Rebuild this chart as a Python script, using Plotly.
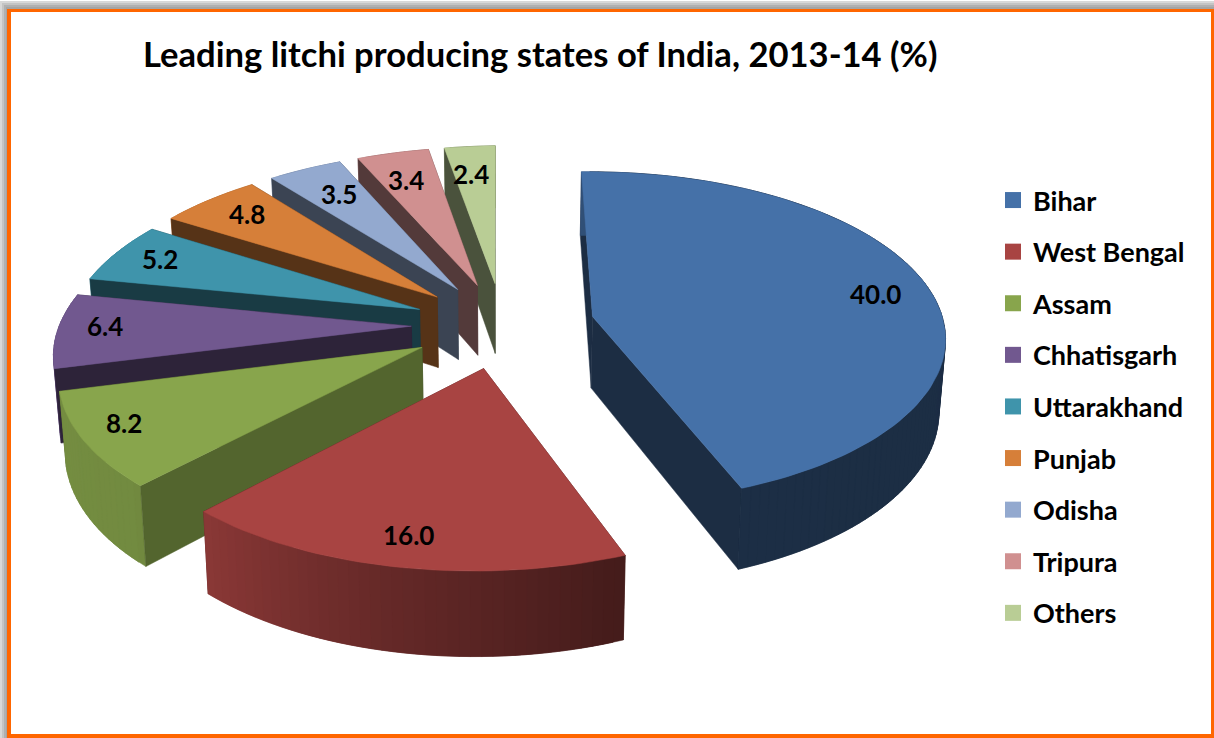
import numpy as np
import plotly.graph_objects as go

# ---- data ----
states = ["Bihar", "West Bengal", "Assam", "Chhatisgarh", "Uttarakhand", "Punjab", "Odisha", "Tripura", "Others"]
shares = [40.0, 16.0, 8.2, 6.4, 5.2, 4.8, 3.5, 3.4, 2.4]
top_colors = ["#4571A8", "#A84442", "#88A54C", "#71588F", "#3F94AB", "#D67F39", "#93A9CF", "#D09090", "#B9CD95"]
title_text = "Leading litchi producing states of India, 2013-14 (%)"

# ---- 3-D pie projection settings ----
CX, CY = 504.0, 325.0
RX, RY = 352.0, 165.0
PERSP = 0.126
SHEAR = 7.0
EXPLODE = 0.26
DEPTH = 72.0
TAPER = 0.985
START_DEG = -1.5
LABEL_R = 0.82
LABEL_DX = [9, -14, -29, -18, -7, 4, 14, 6, 4]
LABEL_DY = [3, 8, 0, -4, -3, -2, 5, 5, 5]
FONT = "Lato"


def project(u, v, shear=SHEAR):
    f = 1.0 / (1.0 + PERSP * v)
    return CX - 1.0 * (shear > 0) + RX * u * f + shear * v, CY - RY * v * f, f


def drop(x, y, f):
    return CX + (x - CX) * TAPER, y + DEPTH * f


def shade(hex_color, k):
    rgb = [int(hex_color[i:i + 2], 16) for i in (1, 3, 5)]
    return "rgb({},{},{})".format(*[int(round(c * k)) for c in rgb])


def wall_factor(deg):
    d = deg % 360
    return float(np.interp(d, [0, 90, 160, 195, 225, 300, 360], [0.45, 0.40, 0.41, 0.62, 0.84, 0.88, 0.70]))


fig = go.Figure()


def poly(xs, ys, color):
    fig.add_trace(go.Scatter(x=list(xs), y=list(ys), mode="lines", fill="toself", fillcolor=color,
                             line=dict(color=color, width=0.5), hoverinfo="skip", showlegend=False))


total = sum(shares)
spans = [s / total * 360.0 for s in shares]
starts = START_DEG + np.concatenate([[0], np.cumsum(spans)[:-1]])

slices = []
for i, (s0, sp) in enumerate(zip(starts, spans)):
    mid = np.radians(s0 + sp / 2)
    apex_u, apex_v = EXPLODE * np.sin(mid), EXPLODE * np.cos(mid)
    degs = np.linspace(s0, s0 + sp, max(10, int(sp / 1.5)))
    angs = np.radians(degs)
    u = apex_u + np.sin(angs)
    v = apex_v + np.cos(angs)
    slices.append((i, s0, sp, mid, apex_u, apex_v, u, v, degs))

# painter's order: back slices first, the big ones last
for i, s0, sp, mid, apex_u, apex_v, u, v, degs in reversed(slices):
    base = top_colors[i]
    ax, ay, af = project(apex_u, apex_v)
    axb, ayb = drop(ax, ay, af)
    X, Y, F = project(u, v)
    Xb, Yb = drop(X, Y, F)
    k_face = 0.61 if states[i] == "Assam" else 0.40
    start_face_front = np.sin(np.radians(s0)) < 0 and s0 > 90
    # far cut face
    poly([ax, X[-1], Xb[-1], axb, ax], [ay, Y[-1], Yb[-1], ayb, ay], shade(base, 0.40))
    if not start_face_front:
        poly([ax, X[0], Xb[0], axb, ax], [ay, Y[0], Yb[0], ayb, ay], shade(base, k_face))
    # outer wall in shaded, overlapping strips
    n = len(X)
    for j in range(n - 1):
        e = min(j + 2, n - 1)
        poly([X[j], X[e], Xb[e], Xb[j], X[j]], [Y[j], Y[e], Yb[e], Yb[j], Y[j]],
             shade(base, wall_factor((degs[j] + degs[j + 1]) / 2)))
    # the near cut face hides the wall behind it
    if start_face_front:
        poly([ax, X[0], Xb[0], axb, ax], [ay, Y[0], Yb[0], ayb, ay], shade(base, k_face))
    # top
    poly([ax, *X, ax], [ay, *Y, ay], base)

# value labels
for i, s0, sp, mid, apex_u, apex_v, u, v, degs in slices:
    lx, ly, _ = project(apex_u + LABEL_R * np.sin(mid), apex_v + LABEL_R * np.cos(mid), shear=0.0)
    fig.add_annotation(x=lx + LABEL_DX[i], y=ly + LABEL_DY[i], text=f"<b>{shares[i]:.1f}</b>", showarrow=False,
                       font=dict(family=FONT, size=26, color="black"))

# legend
for name, col in zip(states, top_colors):
    fig.add_trace(go.Scatter(x=[None], y=[None], mode="markers", name=name, legendgroup=name,
                             marker=dict(symbol="square", size=18, color=col)))

# frame
shapes = []
for off, g in [(0, "#d8d8d8"), (2, "#c4c4c4"), (4, "#b0b0b0"), (6, "#a4a4a4")]:
    shapes.append(dict(type="rect", xref="x", yref="y", x0=off, y0=off + 1, x1=1214, y1=738,
                       fillcolor=g, line_width=0, layer="below"))
shapes.append(dict(type="rect", xref="x", yref="y", x0=7, y0=9, x1=1214, y1=738,
                   fillcolor="#FF6600", line_width=0, layer="below"))
shapes.append(dict(type="rect", xref="x", yref="y", x0=11, y0=12, x1=1211, y1=734,
                   fillcolor="white", line_width=0, layer="below"))

fig.update_layout(
    width=1214, height=738, margin=dict(l=0, r=0, t=0, b=0), autosize=False,
    paper_bgcolor="white", plot_bgcolor="white", shapes=shapes,
    xaxis=dict(visible=False, range=[0, 1214], fixedrange=True),
    yaxis=dict(visible=False, range=[738, 0], fixedrange=True),
    title=dict(text=f"<b>{title_text}</b>", x=143 / 1214, xanchor="left", y=1 - 55 / 738, yanchor="middle",
               font=dict(family=FONT, size=34.6, color="black")),
    legend=dict(x=993 / 1214, xanchor="left", y=1 - 176 / 738, yanchor="top", tracegroupgap=13.5,
                itemwidth=30, bgcolor="rgba(0,0,0,0)",
                font=dict(family=FONT, size=27, color="black", weight="bold")),
    hovermode=False,
)
fig.write_html("out.html", config={"displayModeBar": False},
               post_script="document.body.style.margin='0';document.documentElement.style.overflow='hidden';")
